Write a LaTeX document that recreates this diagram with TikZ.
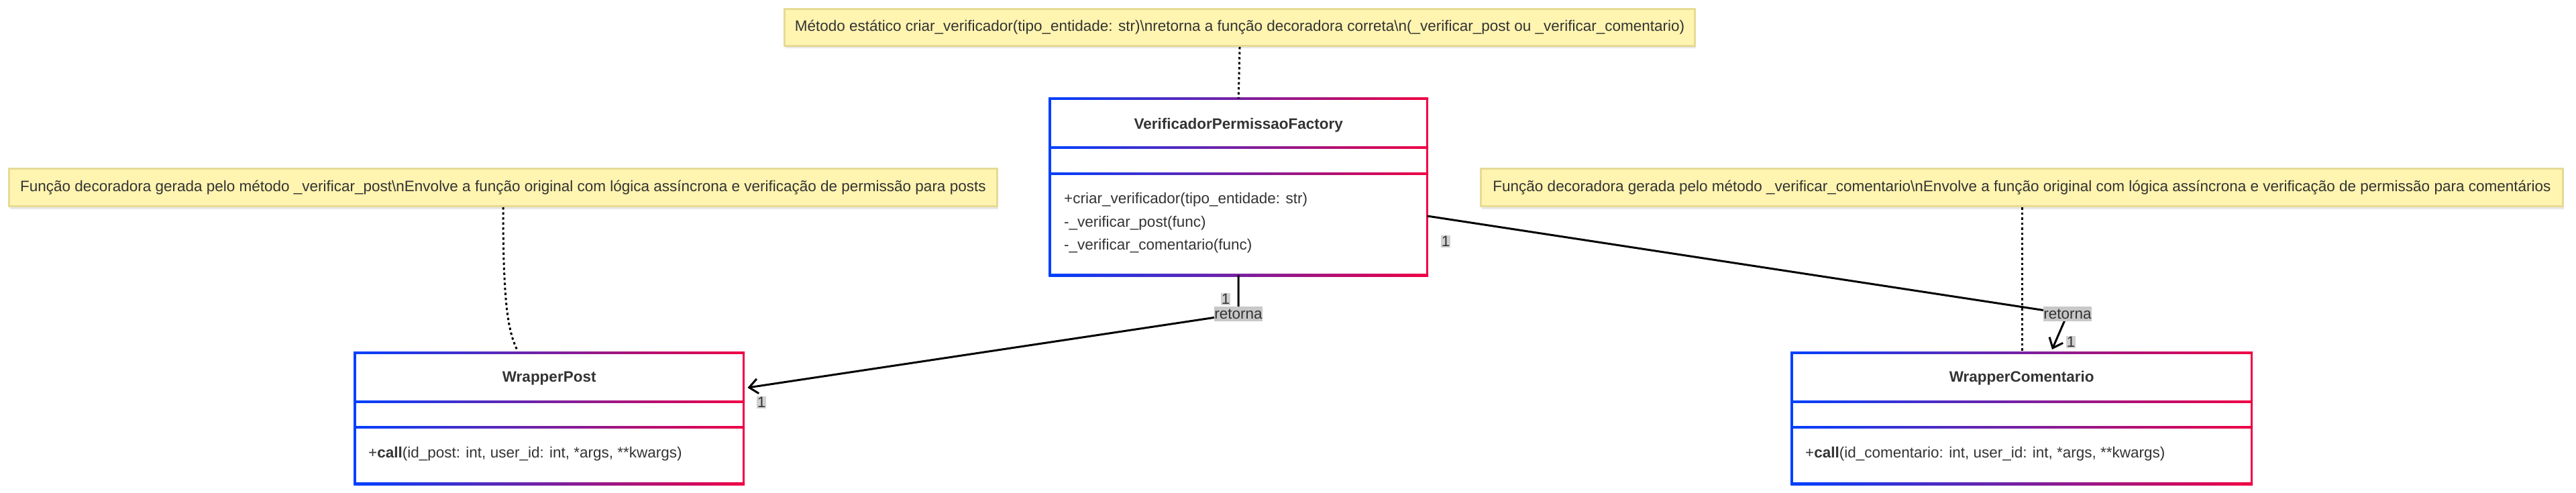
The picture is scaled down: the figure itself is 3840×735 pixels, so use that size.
\documentclass[tikz,border=0pt]{standalone}
\usepackage{fontspec}
\setmainfont{Liberation Sans}
\usetikzlibrary{arrows.meta,calc,shadows}
\definecolor{gblue}{RGB}{0,64,255}
\definecolor{gred}{RGB}{240,0,68}
\definecolor{notefill}{RGB}{255,244,176}
\definecolor{noteline}{RGB}{230,218,150}
\definecolor{textc}{RGB}{51,51,51}
\definecolor{lblgray}{RGB}{200,200,200}
\newcommand\gradframe[3]{% node, sep1, sep2
  \fill[gblue] ($(#1.north west)+(-1.75,-1.75)$) rectangle ($(#1.south west)+(1.75,1.75)$);
  \fill[gred] ($(#1.north east)+(-1.75,-1.75)$) rectangle ($(#1.south east)+(1.75,1.75)$);
  \shade[left color=gblue,right color=gred] ($(#1.north west)+(-1.75,-1.75)$) rectangle ($(#1.north east)+(1.75,1.75)$);
  \shade[left color=gblue,right color=gred] ($(#1.south west)+(-1.75,-1.75)$) rectangle ($(#1.south east)+(1.75,1.75)$);
  \shade[left color=gblue,right color=gred] ($(#1.north west)+(-1.75,#2-1.75)$) rectangle ($(#1.north east)+(1.75,#2+1.75)$);
  \shade[left color=gblue,right color=gred] ($(#1.north west)+(-1.75,#3-1.75)$) rectangle ($(#1.north east)+(1.75,#3+1.75)$);
}
\begin{document}
\begin{tikzpicture}[x=1pt,y=-1pt,
  txt/.style={font=\fontsize{22.5pt}{34.5pt}\selectfont, text=textc, inner sep=0pt},
  note/.style={txt, fill=notefill, draw=noteline, line width=3pt, anchor=north west,
    drop shadow={shadow xshift=1pt, shadow yshift=-4pt, opacity=0.18}},
  classbox/.style={fill=white, draw=none, anchor=north west, inner sep=0pt,
    drop shadow={shadow xshift=1pt, shadow yshift=-3pt, opacity=0.12}},
  ctitle/.style={txt, font=\fontsize{22.5pt}{27pt}\selectfont\bfseries},
  meth/.style={txt, anchor=west},
  conn/.style={draw=black, line width=3pt},
  arr/.style={conn, -{Straight Barb[length=13pt,width=22pt,line width=3pt]}},
  dot/.style={draw=black, line width=3pt, dash pattern=on 3.5pt off 4pt},
  lbl/.style={txt, fill=lblgray, inner xsep=0pt, inner ysep=3.5pt},
  mult/.style={txt, fill=lblgray!85, inner xsep=0.5pt, inner ysep=1pt}]
\useasboundingbox (0,0) rectangle (3840,735);
\fill[white] (0,0) rectangle (3840,735);

% notes
\node[note, minimum width=1357, minimum height=55] (ntop) at (1168,12)
  {Método estático criar\_verificador(tipo\_entidade: str)\textbackslash nretorna a função decoradora correta\textbackslash n(\_verificar\_post ou \_verificar\_comentario)};
\node[note, minimum width=1473, minimum height=56] (nleft) at (12,250)
  {Função decoradora gerada pelo método \_verificar\_post\textbackslash nEnvolve a função original com lógica assíncrona e verificação de permissão para posts};
\node[note, minimum width=1613, minimum height=56] (nright) at (2206,250)
  {Função decoradora gerada pelo método \_verificar\_comentario\textbackslash nEnvolve a função original com lógica assíncrona e verificação de permissão para comentários};

% class boxes
\node[classbox, minimum width=562, minimum height=263] (factory) at (1565,147) {};
\gradframe{factory}{73}{112}
\node[ctitle] (factoryT) at ($(factory.north)+(0,40)$) {VerificadorPermissaoFactory};
\node[meth] (fm1) at ($(factory.north west)+(21,151)$) {+criar\_verificador(tipo\_entidade: str)};
\node[meth] (fm2) at ($(factory.north west)+(21,186)$) {-\_verificar\_post(func)};
\node[meth] (fm3) at ($(factory.north west)+(21,220)$) {-\_verificar\_comentario(func)};

\node[classbox, minimum width=579, minimum height=195] (wpost) at (529,526) {};
\gradframe{wpost}{73}{111}
\node[ctitle] (wpostT) at ($(wpost.north)+(0,38)$) {WrapperPost};
\node[meth] (wpm) at ($(wpost.north west)+(20,151)$) {+\textbf{call}(id\_post: int, user\_id: int, *args, **kwargs)};

\node[classbox, minimum width=685, minimum height=195] (wcom) at (2671,526) {};
\gradframe{wcom}{73}{111}
\node[ctitle] (wcomT) at ($(wcom.north)+(0,38)$) {WrapperComentario};
\node[meth] (wcm) at ($(wcom.north west)+(20,151)$) {+\textbf{call}(id\_comentario: int, user\_id: int, *args, **kwargs)};

% dotted note links
\draw[dot] (ntop.south) -- (factory.north);
\draw[dot] (nleft.south) .. controls ($(nleft.south)+(0,150)$) and ($(nleft.south)+(8,185)$) .. ($(wpost.north west)+(242,-4)$);
\draw[dot] (nright.south) -- (nright.south |- wcom.north);

% connectors
\coordinate (k1) at (1846,468);
\coordinate (k2) at (3082,468);
\draw[arr] (factory.south) -- (k1) -- ($(wpost.north east)+(6,52)$);
\draw[arr] ($(factory.north east)+(0,175)$) -- (k2) -- ($(wcom.north west)+(388,-5)$);
\node[lbl] (r1) at (k1) {retorna};
\node[lbl] (r2) at (k2) {retorna};
\node[mult] (m1) at (1827,446) {1};
\node[mult] (m2) at (1135,600) {1};
\node[mult] (m3) at (2155,360) {1};
\node[mult] (m4) at (3087,510) {1};
\end{tikzpicture}
\end{document}
